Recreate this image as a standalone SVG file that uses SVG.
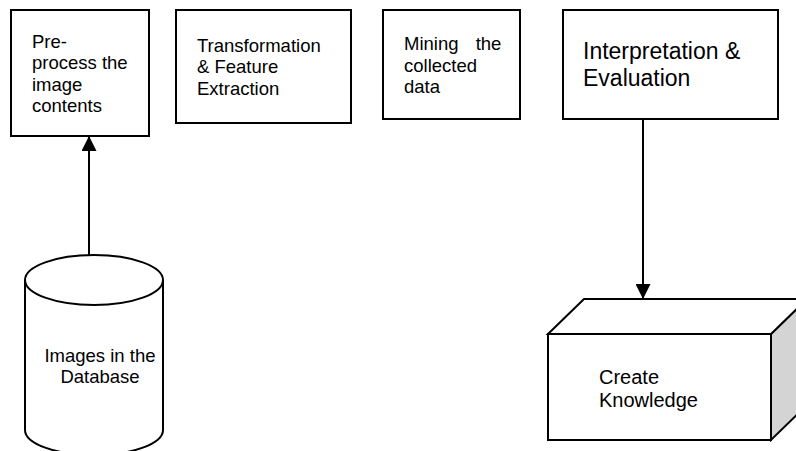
<svg xmlns="http://www.w3.org/2000/svg" width="796" height="451" viewBox="0 0 796 451">
<defs>
<style>
.box{fill:#fff;stroke:#000;stroke-width:2}
.t{font-family:"Liberation Sans",Arial,sans-serif;font-size:18.5px;fill:#000}
.conn{stroke:#000;stroke-width:2;fill:none}
</style>
<marker id="arr" markerWidth="15" markerHeight="15" refX="15" refY="7.5" orient="auto" markerUnits="userSpaceOnUse" viewBox="0 0 15 15">
<path d="M0,0 L15,7.5 L0,15 Z" fill="#000"/>
</marker>
</defs>
<rect width="796" height="451" fill="#fff"/>
<g id="preprocess">
<rect class="box" x="11" y="10" width="138" height="126"/>
<text class="t"><tspan x="32" y="48">Pre-</tspan><tspan x="32" y="69">process the</tspan><tspan x="32" y="91">image</tspan><tspan x="32" y="112">contents</tspan></text>
</g>
<g id="transform">
<rect class="box" x="176" y="10" width="175" height="113"/>
<text class="t"><tspan x="197" y="52">Transformation</tspan><tspan x="197" y="73">&amp; Feature</tspan><tspan x="197" y="95">Extraction</tspan></text>
</g>
<g id="mining">
<rect class="box" x="383" y="10" width="137" height="109"/>
<text class="t"><tspan x="404" y="50" word-spacing="12">Mining the</tspan><tspan x="404" y="72">collected</tspan><tspan x="404" y="93">data</tspan></text>
</g>
<g id="interpretation">
<rect class="box" x="563" y="10" width="215" height="109"/>
<text class="t" style="font-size:23px"><tspan x="583" y="59">Interpretation &amp;</tspan><tspan x="583" y="86">Evaluation</tspan></text>
</g>
<g id="database">
<path class="box" d="M25,280 L25,430 A69,25 0 0 0 163,430 L163,280"/>
<ellipse class="box" cx="94" cy="280" rx="69" ry="25"/>
<text class="t" text-anchor="middle"><tspan x="100" y="362">Images in the</tspan><tspan x="100" y="383">Database</tspan></text>
</g>
<g id="knowledge">
<path d="M771,334 L807,299 L807,405 L771,440 Z" fill="#d4d4d4" stroke="#000" stroke-width="2"/>
<path d="M548,334 L584,299 L807,299 L771,334 Z" fill="#fff" stroke="#000" stroke-width="2"/>
<rect class="box" x="548" y="334" width="223" height="106"/>
<text class="t" style="font-size:20px"><tspan x="599" y="384">Create</tspan><tspan x="599" y="407">Knowledge</tspan></text>
</g>
<g id="connectors">
<line class="conn" x1="89" y1="255" x2="89" y2="136" marker-end="url(#arr)"/>
<line class="conn" x1="643" y1="119" x2="643" y2="299" marker-end="url(#arr)"/>
</g>
</svg>
